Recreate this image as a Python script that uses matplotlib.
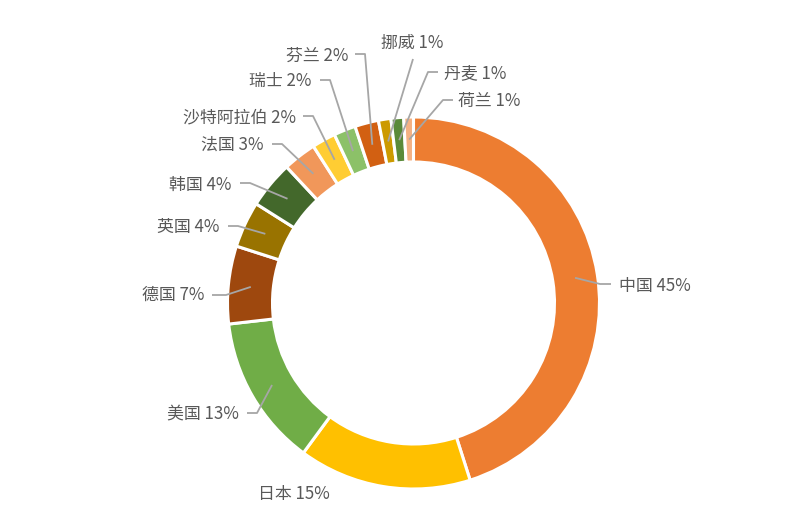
import numpy as np
import matplotlib
matplotlib.use("Agg")
import matplotlib.pyplot as plt

plt.rcParams['font.family'] = ['Noto Sans CJK SC', 'DejaVu Sans']

# data
countries = ["中国", "日本", "美国", "德国", "英国", "韩国", "法国",
             "沙特阿拉伯", "瑞士", "芬兰", "挪威", "丹麦", "荷兰"]
shares = [45.05, 15.0, 13.1, 6.75, 4.0, 4.1, 2.9, 2.06, 1.9, 2.06, 1.08, 1.1, 0.84]
colors = ["#ED7D31", "#FFC000", "#70AD47", "#9E480E", "#997300", "#43682B",
          "#F1975A", "#FFCD33", "#8CC168", "#D26012", "#CC9A00", "#5A8A39",
          "#F4B183"]

W, H = 809, 522

# label layout in pixel coords (y down): text x, text y, ha, leader elbow points
label_layout = [
    (619, 286, "left", [(611, 284), (600, 284)]),
    (294, 494, "center", None),
    (239, 413, "right", [(247, 413), (257, 413)]),
    (204, 295, "right", [(212, 295), (226, 295)]),
    (219, 227, "right", [(228, 226), (238, 226)]),
    (231, 185, "right", [(240, 183), (250, 183)]),
    (264, 145, "right", [(272, 144), (282, 144)]),
    (296, 117, "right", [(303, 116), (313, 116)]),
    (311, 81, "right", [(320, 80), (330, 80)]),
    (348, 56, "right", [(355, 54), (365, 54)]),
    (412, 43, "center", [(413, 59)]),
    (444, 73, "left", [(438, 72), (428, 72)]),
    (458, 101, "left", [(453, 100), (443, 100)]),
]


def px(x, y):
    return x, H - y


fig = plt.figure(figsize=(W / 100, H / 100), dpi=100)
ax = fig.add_axes([0, 0, 1, 1])

r_out = 186
ring = 45
wedges, _ = ax.pie(shares, colors=colors, radius=r_out, center=px(413.5, 303),
                   startangle=90, counterclock=False,
                   wedgeprops=dict(width=ring, edgecolor="white", linewidth=2.2),
                   frame=True)
ax.set_xlim(0, W)
ax.set_ylim(0, H)
ax.set_aspect("equal")
ax.axis("off")

for w, name, val, lay in zip(wedges, countries, shares, label_layout):
    tx, ty, ha, elbow = lay
    mid = np.deg2rad((w.theta1 + w.theta2) / 2)
    rm = w.r - ring / 2
    ax_x = w.center[0] + rm * np.cos(mid)
    ax_y = w.center[1] + rm * np.sin(mid)
    if elbow:
        pts = [px(*p) for p in elbow] + [(ax_x, ax_y)]
        xs, ys = zip(*pts)
        ax.plot(xs, ys, color="#A6A6A6", lw=1.3, solid_capstyle="butt")
    ax.text(*px(tx, ty), f"{name} {round(val)}%", ha=ha, va="center",
            fontsize=12.2, color="#595959")

fig.savefig("out.png", dpi=100)
